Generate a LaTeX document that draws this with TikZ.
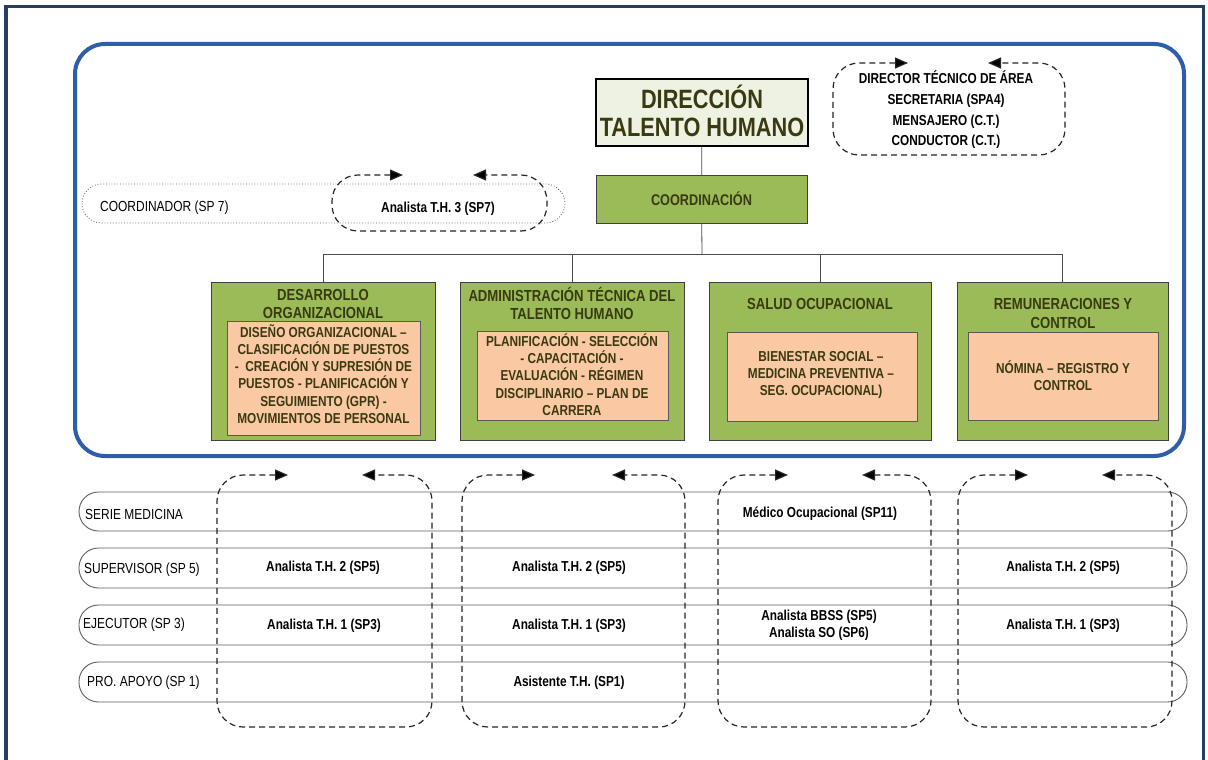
\documentclass[tikz,border=0pt]{standalone}
\usepackage{fontspec}
\setmainfont{Liberation Sans}[FakeStretch=0.82]
\usetikzlibrary{arrows.meta}
\definecolor{navy}{RGB}{36,62,96}
\definecolor{blueframe}{RGB}{46,94,168}
\definecolor{grn}{RGB}{155,187,89}
\definecolor{peach}{RGB}{250,201,164}
\definecolor{dirfill}{RGB}{238,242,226}
\definecolor{olive}{RGB}{58,58,18}
\definecolor{lanegray}{RGB}{95,95,95}
\tikzset{
  greenbox/.style={draw=black!75, fill=grn, line width=0.8pt, inner sep=0},
  peachbox/.style={draw=black!65, fill=peach, line width=0.8pt, inner sep=0},
  dirbox/.style={draw=black, fill=dirfill, line width=1.6pt, inner sep=0},
  titletxt/.style={font=\fontsize{16}{18.6}\selectfont\bfseries, text=olive, align=center, inner sep=0},
  bodytxt/.style={font=\fontsize{14.4}{17.2}\selectfont\bfseries, text=olive, align=center, inner sep=0},
  bigtxt/.style={font=\fontsize{26.5}{28}\selectfont\bfseries, text=olive, align=center, inner sep=0},
  lanetxt/.style={font=\fontsize{14.6}{17}\selectfont, text=black, inner sep=0, anchor=west},
  celltxt/.style={font=\fontsize{14.4}{17}\selectfont\bfseries, text=black, align=center, inner sep=0},
  conn/.style={draw=black!70, line width=0.8pt},
  lane/.style={draw=lanegray, line width=0.9pt, rounded corners=19.5pt},
  dotlane/.style={draw=lanegray, line width=0.8pt, dotted, rounded corners=19.5pt},
  swimline/.style={draw=black!85, line width=1.2pt, dash pattern=on 6pt off 4pt, rounded corners=26pt,
     {Triangle[length=13pt,width=11pt,fill=black]}-{Triangle[length=13pt,width=11pt,fill=black]}}
}
\newcommand\swimbox[6]{\draw[swimline] (#5,#2) -- (#1,#2) -- (#1,#4) -- (#3,#4) -- (#3,#2) -- (#6,#2);}
\begin{document}
\begin{tikzpicture}[x=1pt,y=-1pt]
\path[use as bounding box, fill=white] (0,0) rectangle (1208,760);
% outer frame
\draw[navy, line width=3.5pt] (6,770) -- (6,6.5) -- (1203.5,6.5) -- (1203.5,770);
% blue rounded frame
\draw[blueframe, line width=4pt, rounded corners=30pt] (75,44) rectangle (1184,456);

% top nodes
\node[dirbox, minimum width=212pt, minimum height=67pt] (dir) at (702,112.5) {};
\node[bigtxt] (dirt) at (702,111) {DIRECCIÓN\\TALENTO HUMANO};
\node[greenbox, minimum width=211pt, minimum height=48pt] (coord) at (701.5,199) {};
\node[bodytxt, font=\fontsize{15.5}{18}\selectfont\bfseries] (coordt) at (701.5,199) {COORDINACIÓN};

% departments
\node[greenbox, minimum width=224pt, minimum height=158pt] (d1) at (323,361) {};
\node[greenbox, minimum width=224pt, minimum height=158pt] (d2) at (572,361) {};
\node[greenbox, minimum width=222pt, minimum height=158pt] (d3) at (820,361) {};
\node[greenbox, minimum width=211pt, minimum height=158pt] (d4) at (1062.5,361) {};

\node[titletxt] (t1) at (323,304) {DESARROLLO\\ORGANIZACIONAL};
\node[titletxt] (t2) at (572,303.5) {ADMINISTRACIÓN TÉCNICA DEL\\TALENTO HUMANO};
\node[titletxt] (t3) at (820,304) {SALUD OCUPACIONAL};
\node[titletxt] (t4) at (1063,313.5) {REMUNERACIONES Y\\CONTROL};

\node[peachbox, minimum width=193pt, minimum height=114pt] (o1) at (323.5,378) {};
\node[peachbox, minimum width=191pt, minimum height=89pt] (o2) at (572.5,375.5) {};
\node[peachbox, minimum width=190pt, minimum height=89pt] (o3) at (822,376.5) {};
\node[peachbox, minimum width=190pt, minimum height=88pt] (o4) at (1063,376) {};

\node[bodytxt] (o1t) at (323.5,374) {DISEÑO ORGANIZACIONAL –\\CLASIFICACIÓN DE PUESTOS\\-\ \ CREACIÓN Y SUPRESIÓN DE\\PUESTOS - PLANIFICACIÓN Y\\SEGUIMIENTO (GPR) -\\MOVIMIENTOS DE PERSONAL};
\node[bodytxt] (o2t) at (572,374.5) {PLANIFICACIÓN - SELECCIÓN\\- CAPACITACIÓN -\\EVALUACIÓN - RÉGIMEN\\DISCIPLINARIO – PLAN DE\\CARRERA};
\node[bodytxt] (o3t) at (821,375) {BIENESTAR SOCIAL –\\MEDICINA PREVENTIVA –\\SEG. OCUPACIONAL)};
\node[bodytxt] (o4t) at (1063,375.5) {NÓMINA – REGISTRO Y\\CONTROL};

% connectors
\coordinate (bus) at (702,254);
\draw[conn] (dir) -- (coord);
\draw[conn] (coord) -- (bus);
\draw[conn] (bus) -| (d1.north);
\draw[conn] (bus) -| (d2.north);
\draw[conn] (bus) -| (d3.north);
\draw[conn] (bus) -| (d4.north);

% director staff box
\swimbox{833}{63}{1065}{155}{908}{988}
\node[celltxt, font=\fontsize{14.4}{20.6}\selectfont\bfseries] (staff) at (946,110) {DIRECTOR TÉCNICO DE ÁREA\\SECRETARIA (SPA4)\\MENSAJERO (C.T.)\\CONDUCTOR (C.T.)};

% coordinator lane
\draw[dotlane] (82,184) rectangle (565,223);
\node[lanetxt] (lc) at (100,208) {COORDINADOR (SP 7)};
\swimbox{332}{175}{547}{231}{403}{473}
\node[celltxt] (c7) at (438,209) {Analista T.H. 3 (SP7)};

% lanes
\draw[lane] (79,492) rectangle (1187,531);
\draw[lane] (79,548) rectangle (1187,588);
\draw[lane] (79,605) rectangle (1187,645);
\draw[lane] (79,662) rectangle (1187,702);
\node[lanetxt] (l1) at (85,514) {SERIE MEDICINA};
\node[lanetxt] (l2) at (84,570) {SUPERVISOR (SP 5)};
\node[lanetxt] (l3) at (83,625) {EJECUTOR (SP 3)};
\node[lanetxt] (l4) at (87,683) {PRO. APOYO (SP 1)};

% bottom swim boxes
\swimbox{217}{475}{432}{727}{288}{362}
\swimbox{462}{475}{685}{727}{535}{612}
\swimbox{718}{475}{931}{727}{788}{862}
\swimbox{958}{475}{1172}{727}{1028}{1102}

% cells
\node[celltxt] (a12) at (323,568) {Analista T.H. 2 (SP5)};
\node[celltxt] (a13) at (324,626) {Analista T.H. 1 (SP3)};
\node[celltxt] (a22) at (569,568) {Analista T.H. 2 (SP5)};
\node[celltxt] (a23) at (569,626) {Analista T.H. 1 (SP3)};
\node[celltxt] (a24) at (569,683) {Asistente T.H. (SP1)};
\node[celltxt] (a31) at (820,514) {Médico Ocupacional (SP11)};
\node[celltxt] (a33) at (819,625.5) {Analista BBSS (SP5)\\Analista SO (SP6)};
\node[celltxt] (a42) at (1063,568) {Analista T.H. 2 (SP5)};
\node[celltxt] (a43) at (1063,626) {Analista T.H. 1 (SP3)};
\end{tikzpicture}
\end{document}
